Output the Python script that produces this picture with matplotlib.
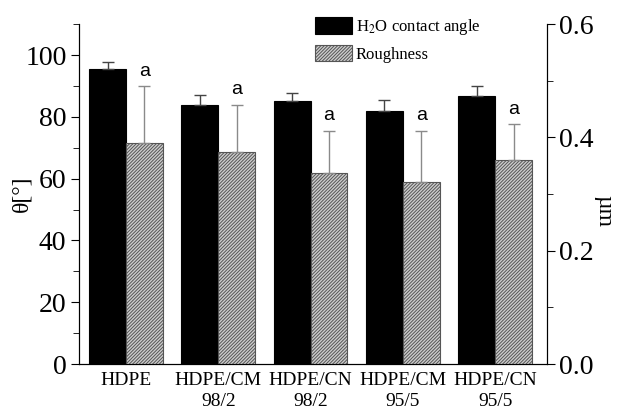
import numpy as np
import matplotlib
matplotlib.use("Agg")
import matplotlib.pyplot as plt

plt.rcParams['font.family'] = ['Liberation Serif', 'DejaVu Serif']
plt.rcParams['mathtext.fontset'] = 'stix'
plt.rcParams['hatch.linewidth'] = 0.7

# data
samples = ["HDPE", "HDPE/CM\n98/2", "HDPE/CN\n98/2", "HDPE/CM\n95/5", "HDPE/CN\n95/5"]
angle = [95.5, 83.8, 85.1, 81.9, 86.7]          # deg
angle_err = [2.2, 3.2, 2.6, 3.5, 3.3]
rough = [0.391, 0.374, 0.337, 0.321, 0.361]      # um
rough_err = [0.099, 0.084, 0.075, 0.091, 0.062]
letters = ["a", "a", "a", "a", "a"]

x = np.arange(len(samples))
w = 0.4

fig = plt.figure(figsize=(6.22, 4.09), dpi=100)
ax1 = fig.add_axes([0.127, 0.110, 0.752, 0.831])
ax2 = ax1.twinx()

b1 = ax1.bar(x - w / 2, angle, w, color='black', edgecolor='black', linewidth=0.8,
             label='H$_2$O contact angle')
ax1.errorbar(x - w / 2, angle, yerr=[np.zeros(len(angle)), angle_err], fmt='none',
             ecolor='#444444', elinewidth=1.0, capsize=4, capthick=1.0)

b2 = ax2.bar(x + w / 2, rough, w, color='#cdcdcd', edgecolor='#555555', linewidth=0.8,
             hatch='//////////', label='Roughness')
ax2.errorbar(x + w / 2, rough, yerr=[np.zeros(len(rough)), rough_err], fmt='none',
             ecolor='#8a8a8a', elinewidth=1.0, capsize=4, capthick=1.0)

for xi, r, e, t in zip(x, rough, rough_err, letters):
    ax2.text(xi + w / 2, r + e + 0.012, t, ha='center', va='bottom',
             fontsize=14, family='Liberation Sans')

ax1.set_xlim(-0.51, 4.56)
ax1.set_ylim(0, 110)
ax2.set_ylim(0, 0.6)

ax1.set_yticks(np.arange(0, 101, 20))
ax1.set_yticks(np.arange(10, 111, 20), minor=True)
ax2.set_yticks([0.0, 0.2, 0.4, 0.6])
ax2.set_yticklabels(['0.0', '0.2', '0.4', '0.6'])
ax2.set_yticks([0.1, 0.3, 0.5], minor=True)

ax1.set_xticks(x)
ax1.set_xticklabels(samples, fontsize=14, linespacing=1.25)
ax1.tick_params(axis='x', length=0, pad=6)
ax1.tick_params(axis='y', which='major', direction='out', length=6, labelsize=20, pad=3)
ax1.tick_params(axis='y', which='minor', direction='out', length=4)
ax2.tick_params(axis='y', which='major', direction='out', length=6, labelsize=20, pad=3)
ax2.tick_params(axis='y', which='minor', direction='out', length=4)

for ax in (ax1, ax2):
    ax.spines['top'].set_visible(False)

ax1.set_ylabel('θ[°]', fontsize=17)
ax1.yaxis.set_label_coords(-0.10, 0.5)
ax2.set_ylabel('µm', fontsize=17, rotation=-90, va='bottom')
ax2.yaxis.set_label_coords(1.10, 0.45)

ax2.legend(handles=[b1, b2], loc='upper left', bbox_to_anchor=(0.48, 1.055),
           frameon=False, fontsize=12, handlelength=2.2, handleheight=1.15,
           handletextpad=0.25, labelspacing=0.45, borderpad=0.2)

fig.savefig('out.png', dpi=100)
